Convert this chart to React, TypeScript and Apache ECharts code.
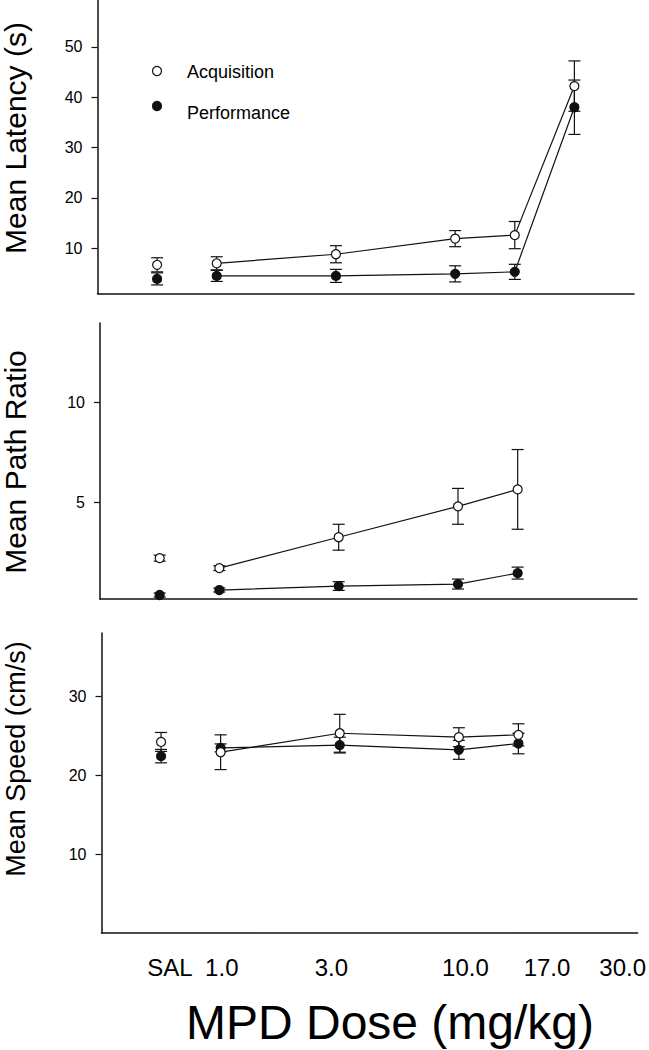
import React, { useEffect, useRef } from "react";
import * as echarts from "echarts";

// Dose categories and their positions on the (ordinal) dose axis
const doseLabels = ["SAL", "1.0", "3.0", "10.0", "17.0", "30.0"];
const doseIndex = [1, 2, 4, 6, 7, 8];
const doseLabelPos = [1.15, 2.02, 3.86, 6.11, 7.48, 8.75];

// Mean Latency (s)
const acqLatency = [6.7, 7.0, 8.8, 11.9, 12.6, 42.2];
const acqLatencyErr = [1.4, 1.3, 1.7, 1.6, 2.7, 5.0];
const perfLatency = [3.9, 4.5, 4.5, 4.9, 5.3, 38.0];
const perfLatencyErr = [1.2, 1.1, 1.3, 1.6, 1.5, 5.4];
const latencyTicks = [10, 20, 30, 40, 50];

// Mean Path Ratio
const acqPath = [2.2, 1.7, 3.25, 4.8, 5.65];
const acqPathErr = [0.15, 0.12, 0.65, 0.9, 2.0];
const perfPath = [0.35, 0.6, 0.8, 0.9, 1.45];
const perfPathErr = [0.1, 0.1, 0.22, 0.25, 0.3];
const pathTicks = [5, 10];

// Mean Speed (cm/s)
const acqSpeed = [24.2, 22.9, 25.3, 24.8, 25.1];
const acqSpeedErr = [1.2, 2.2, 2.4, 1.2, 1.4];
const perfSpeed = [22.4, 23.45, 23.8, 23.2, 24.0];
const perfSpeedErr = [0.85, 0.5, 1.0, 1.2, 1.3];
const speedTicks = [10, 20, 30];

const FONT = "'Liberation Sans', Arial, Helvetica, sans-serif";
const INK = "#111";

function errorBars(vals: number[], errs: number[], axis: number, z: number) {
  return {
    type: "custom",
    xAxisIndex: axis,
    yAxisIndex: axis,
    z,
    encode: { x: 0, y: [1, 2] },
    data: vals.map((v, i) => [doseIndex[i], v - errs[i], v + errs[i]]),
    renderItem: (params: any, api: any) => {
      const x = api.value(0);
      const top = api.coord([x, api.value(2)]);
      const bot = api.coord([x, api.value(1)]);
      const w = 6;
      const style = { stroke: INK, lineWidth: 1.2 };
      return {
        type: "group",
        children: [
          { type: "line", shape: { x1: top[0], y1: top[1], x2: bot[0], y2: bot[1] }, style },
          { type: "line", shape: { x1: top[0] - w, y1: top[1], x2: top[0] + w, y2: top[1] }, style },
          { type: "line", shape: { x1: bot[0] - w, y1: bot[1], x2: bot[0] + w, y2: bot[1] }, style },
        ],
      };
    },
  };
}

function groupSeries(vals: number[], errs: number[], axis: number, filled: boolean, z: number) {
  const itemStyle = {
    color: filled ? INK : "#fff",
    borderColor: INK,
    borderWidth: 1.2,
    opacity: 1,
  };
  return [
    errorBars(vals, errs, axis, z),
    {
      type: "line",
      xAxisIndex: axis,
      yAxisIndex: axis,
      z: z + 1,
      data: vals.slice(1).map((v, i) => [doseIndex[i + 1], v]),
      symbol: "circle",
      symbolSize: 9,
      showSymbol: true,
      itemStyle,
      lineStyle: { color: INK, width: 1.2 },
      emphasis: { disabled: true },
    },
    {
      type: "scatter",
      xAxisIndex: axis,
      yAxisIndex: axis,
      z: z + 1,
      data: [[doseIndex[0], vals[0]]],
      symbol: "circle",
      symbolSize: 9,
      itemStyle,
      emphasis: { disabled: true },
    },
  ];
}

function xAxis(grid: number, showLabels: boolean) {
  return {
    type: "value",
    gridIndex: grid,
    min: 0,
    max: 9,
    axisLine: { show: true, onZero: false, lineStyle: { color: INK, width: 1.5 } },
    axisTick: { show: false },
    splitLine: { show: false },
    axisLabel: showLabels
      ? {
          show: true,
          customValues: doseLabelPos,
          formatter: (v: number) => {
            const i = doseLabelPos.findIndex((p) => Math.abs(p - v) < 1e-6);
            return i >= 0 ? doseLabels[i] : "";
          },
          fontFamily: FONT,
          fontSize: 24,
          color: "#000",
          margin: 22,
        }
      : { show: false },
  };
}

function yAxis(grid: number, min: number, max: number, ticks: number[]) {
  return {
    type: "value",
    gridIndex: grid,
    min,
    max,
    axisLine: { show: true, onZero: false, lineStyle: { color: INK, width: 1.5 } },
    axisTick: { show: true, customValues: ticks, length: 6, lineStyle: { color: INK, width: 1.2 } },
    splitLine: { show: false },
    axisLabel: {
      show: true,
      customValues: ticks,
      fontFamily: FONT,
      fontSize: 16,
      color: "#000",
      margin: 15,
    },
  };
}

export default function App() {
  const ref = useRef<HTMLDivElement>(null);
  useEffect(() => {
    document.body.style.margin = "0";
    if (!ref.current) return;
    const chart = echarts.init(ref.current, undefined, { renderer: "svg" });
    const yTitle = (text: string, x: number, y: number, size: number) => ({
      type: "text",
      x,
      y,
      rotation: Math.PI / 2,
      style: {
        text,
        font: `${size}px ${FONT}`,
        fill: "#000",
        textAlign: "center",
        textVerticalAlign: "middle",
      },
    });
    chart.setOption({
      animation: false,
      grid: [
        { left: 97.5, top: 0, width: 536.5, height: 293.5 },
        { left: 100, top: 323, width: 537, height: 276 },
        { left: 101.5, top: 633, width: 537.5, height: 300 },
      ],
      xAxis: [xAxis(0, false), xAxis(1, false), xAxis(2, true)],
      yAxis: [
        yAxis(0, 1, 59.3, latencyTicks),
        yAxis(1, 0.15, 14, pathTicks),
        yAxis(2, 0, 38, speedTicks),
      ],
      series: [
        ...groupSeries(perfLatency, perfLatencyErr, 0, true, 2),
        ...groupSeries(acqLatency, acqLatencyErr, 0, false, 4),
        ...groupSeries(perfPath, perfPathErr, 1, true, 2),
        ...groupSeries(acqPath, acqPathErr, 1, false, 4),
        ...groupSeries(perfSpeed, perfSpeedErr, 2, true, 2),
        ...groupSeries(acqSpeed, acqSpeedErr, 2, false, 4),
      ],
      graphic: [
        { type: "circle", shape: { cx: 157, cy: 71, r: 4.5 }, style: { fill: "#fff", stroke: INK, lineWidth: 1.2 } },
        { type: "circle", shape: { cx: 157, cy: 106, r: 4.5 }, style: { fill: INK, stroke: INK, lineWidth: 1.2 } },
        { type: "text", x: 187, y: 72, style: { text: "Acquisition", font: `18px ${FONT}`, fill: "#000", textVerticalAlign: "middle" } },
        { type: "text", x: 187, y: 113, style: { text: "Performance", font: `18px ${FONT}`, fill: "#000", textVerticalAlign: "middle" } },
        yTitle("Mean Latency (s)", 15, 138, 30),
        yTitle("Mean Path Ratio", 15, 462, 30),
        yTitle("Mean Speed (cm/s)", 16, 759, 27),
        {
          type: "text",
          x: 390,
          y: 1046,
          style: {
            text: "MPD Dose (mg/kg)",
            font: `48px ${FONT}`,
            fill: "#000",
            textAlign: "center",
            textVerticalAlign: "bottom",
          },
        },
      ],
    });
    return () => chart.dispose();
  }, []);
  return <div ref={ref} style={{ width: 649, height: 1050 }} />;
}
